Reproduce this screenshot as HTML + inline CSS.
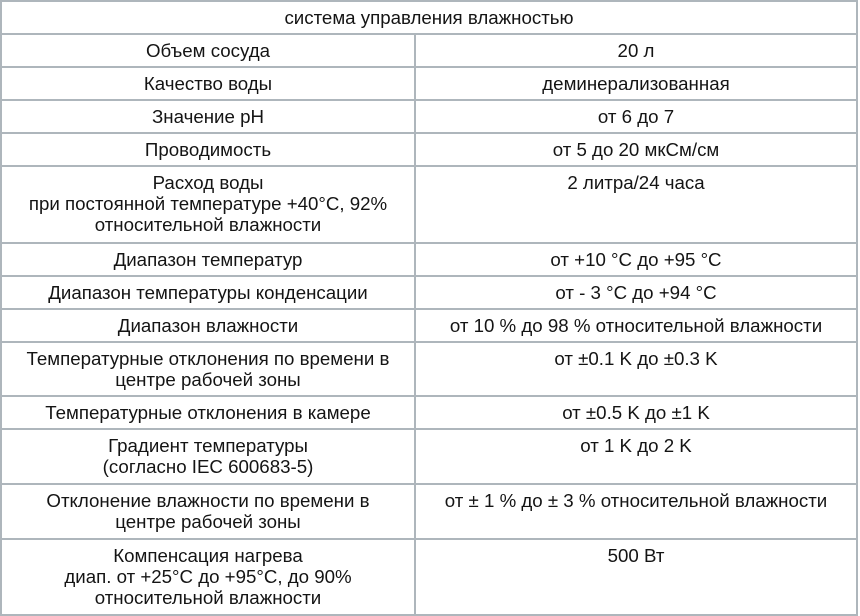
<!DOCTYPE html>
<html><head><meta charset="utf-8"><style>
body{margin:0;width:860px;height:616px;background:#fff;overflow:hidden;font-family:"Liberation Sans","DejaVu Sans",sans-serif;font-size:18.7px;color:#141414}
#t{position:absolute;left:0;top:0;width:860px;height:616px}
.row{position:absolute;left:0;width:858px;border-top:2px solid #aeb6bc;box-sizing:border-box}
.c{position:absolute;top:0;bottom:0;text-align:center;line-height:21px;padding-top:5px;box-sizing:border-box;white-space:nowrap}
.l{left:0;width:414px;border-left:2px solid #aeb6bc}
.r{left:414px;width:444px;border-left:2px solid #aeb6bc;border-right:2px solid #aeb6bc}
.h{left:0;width:858px;border-left:2px solid #aeb6bc;border-right:2px solid #aeb6bc}
</style></head><body>
<div id="t"></div>
<script>
const rows=[
["система управления влажностью",null],
["Объем сосуда","20 л"],
["Качество воды","деминерализованная"],
["Значение pH","от 6 до 7"],
["Проводимость","от 5 до 20 мкСм/см"],
["Расход воды<br>при постоянной температуре +40°C, 92%<br>относительной влажности","2 литра/24 часа"],
["Диапазон температур","от +10 °C до +95 °C"],
["Диапазон температуры конденсации","от - 3 °C до +94 °C"],
["Диапазон влажности","от 10 % до 98 % относительной влажности"],
["Температурные отклонения по времени в<br>центре рабочей зоны","от ±0.1 K до ±0.3 K"],
["Температурные отклонения в камере","от ±0.5 K до ±1 K"],
["Градиент температуры<br>(согласно IEC 600683-5)","от 1 K до 2 K"],
["Отклонение влажности по времени в<br>центре рабочей зоны","от ± 1 % до ± 3 % относительной влажности"],
["Компенсация нагрева<br>диап. от +25°C до +95°C, до 90%<br>относительной влажности","500 Вт"]
];
const edges=[0,33,66,99,132,165,242,275,308,341,395,428,483,538,616];
const t=document.getElementById('t');
rows.forEach((r,i)=>{
 const d=document.createElement('div');
 d.className='row';
 
 
 d.style.top=edges[i]+'px';
 d.style.height=(edges[i+1]-edges[i])+'px';
 if(i===rows.length-1){d.style.borderBottom='2px solid #aeb6bc';}
 if(r[1]===null){
  const c=document.createElement('div');
  c.className='c h';
  
  
  c.innerHTML=r[0];d.appendChild(c);
 }else{
  const a=document.createElement('div');
  a.className='c l';
  
  
  a.innerHTML=r[0];
  const b=document.createElement('div');
  b.className='c r';
  
  
  b.innerHTML=r[1];
  d.appendChild(a);d.appendChild(b);
 }
 t.appendChild(d);
});
</script>
</body></html>
